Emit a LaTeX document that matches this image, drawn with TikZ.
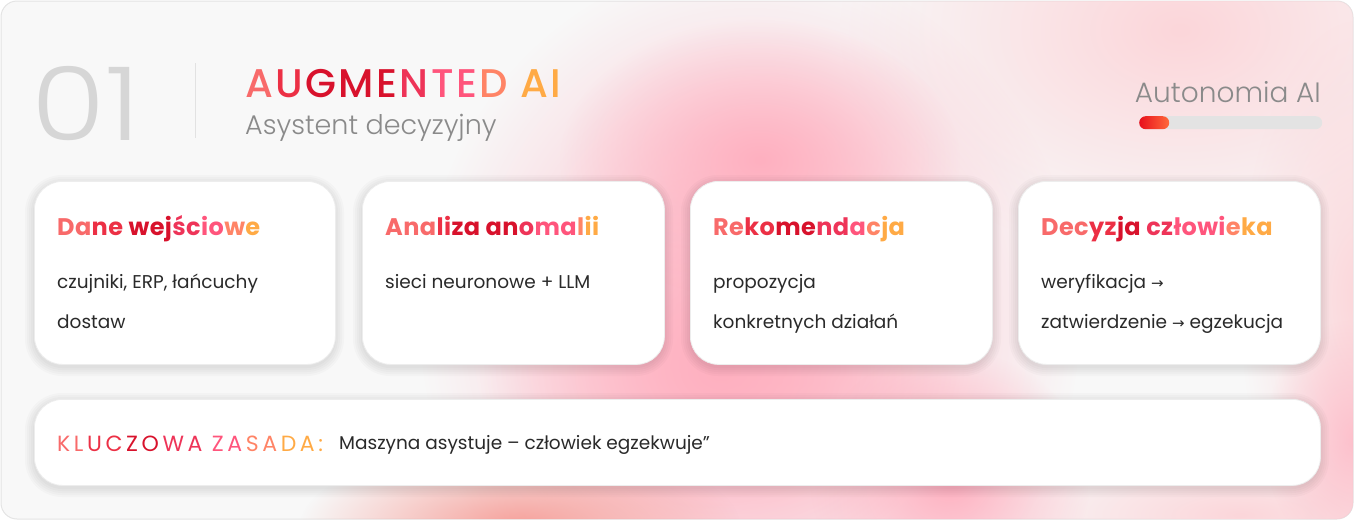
\documentclass[tikz,border=0pt]{standalone}
\usepackage{fontspec}
\usepackage{graphicx}
\setmainfont{Poppins}
\newfontfamily\lightfont{Poppins Light}
\newfontfamily\medfont{Poppins Medium}
\newfontfamily\boldfont{Poppins Bold}
\newfontfamily\arrowfont{DejaVu Sans}
\usetikzlibrary{fadings}
\definecolor{gA}{HTML}{F86A6A}
\definecolor{gB}{HTML}{EC3045}
\definecolor{gC}{HTML}{D8122C}
\definecolor{gD}{HTML}{EE3458}
\definecolor{gE}{HTML}{FF557C}
\definecolor{gF}{HTML}{FF8466}
\definecolor{gG}{HTML}{FFAA45}
\definecolor{bg}{HTML}{F8F8F8}
\definecolor{frame}{HTML}{E4E4E4}
\definecolor{cardline}{HTML}{EDEDED}
\definecolor{numgray}{HTML}{D6D6D6}
\definecolor{subgray}{HTML}{8A8A8A}
\definecolor{bodytext}{HTML}{2A2A2A}
\definecolor{bargray}{HTML}{E3E3E3}
\definecolor{barred}{HTML}{E8101C}
\definecolor{barorange}{HTML}{FF6A3A}
\definecolor{blobpink}{HTML}{FFB0C0}
\definecolor{blobsalmon}{HTML}{F6A09A}
\definecolor{bloblight}{HTML}{FCD6DA}
\tikzfading[name=softblob, inner color=transparent!0, outer color=transparent!100]
\ExplSyntaxOn
\dim_new:N \l_myls_dim
\NewDocumentCommand\gl{mm}{\textcolor{#1}{\tl_map_inline:nn{#2}{##1\kern\l_myls_dim}}}
\NewDocumentCommand\setls{m}{\dim_set:Nn \l_myls_dim{#1}}
\ExplSyntaxOff
\newcommand\arr{{\arrowfont\fontsize{15}{15}\selectfont →}}
\newcommand\cardshadow[4]{%
  \foreach \e in {1,3,5,7,9}{%
    \fill[black, fill opacity=0.018, rounded corners=28pt+\e pt]
      (#1-\e,#2-\e+3) rectangle (#3+\e,#4+\e+3);}}
\begin{document}
\begin{tikzpicture}[x=1pt,y=-1pt,
  card/.style={draw=cardline, line width=0.8pt, fill=white, rounded corners=28pt},
  cardtitle/.style={anchor=base west, inner sep=0pt, font=\boldfont\fontsize{24}{24}\selectfont},
  body/.style={anchor=base west, inner sep=0pt, text=bodytext, font=\fontsize{18.5}{18.5}\selectfont},
  blob/.style={path fading=softblob}]
\useasboundingbox (0,0) rectangle (1354,520);
% outer frame
\path[fill=bg, draw=frame, line width=1pt, rounded corners=16pt] (1,1) rectangle (1353,519);
% background blobs
\begin{scope}
\clip[rounded corners=16pt] (1,1) rectangle (1353,519);
\fill[bloblight, blob] (1180,30) ellipse (340 and 230);
\fill[bloblight, blob] (1360,300) ellipse (120 and 280);
\fill[bloblight, blob] (1240,515) ellipse (260 and 80);
\fill[blobpink, blob, fill opacity=0.9] (750,320) ellipse (330 and 360);
\fill[blobpink, blob] (720,370) ellipse (240 and 200);
\fill[blobpink, blob] (760,160) ellipse (200 and 140);
\fill[blobsalmon, blob] (520,525) ellipse (220 and 80);
\fill[blobpink, blob] (950,480) ellipse (140 and 130);
\fill[blobpink, blob, fill opacity=0.7] (1354,440) ellipse (90 and 120);
\end{scope}
% header
\node[anchor=base west, inner sep=0pt, text=numgray, font=\lightfont\fontsize{102}{102}\selectfont] (num) at (31,140) {\scalebox{1.18}[1]{01}};
\draw[numgray!70, line width=0.8pt] (195,63) -- (195,138);
\node[anchor=base west, inner sep=0pt, font=\medfont\fontsize{40}{40}\selectfont] (title) at (245,97)
  {\setls{2.4pt}\gl{gA}{A}\gl{gB}{U}\gl{gC}{GME}\gl{gD}{N}\gl{gE}{TE}\gl{gF}{D} \gl{gG}{AI}};
\node[anchor=base west, inner sep=0pt, text=subgray, font=\lightfont\fontsize{27}{27}\selectfont] (subtitle) at (245,134) {Asystent decyzyjny};
\node[anchor=base east, inner sep=0pt, text=subgray, font=\lightfont\fontsize{28}{28}\selectfont] (auto) at (1321,102) {Autonomia AI};
\node[fill=bargray, rounded corners=6.5pt, minimum width=183pt, minimum height=13pt, inner sep=0pt, anchor=north west] (bar) at (1139,116) {};
\node[left color=barred, right color=barorange, rounded corners=6.5pt, minimum width=30pt, minimum height=13pt, inner sep=0pt, anchor=north west] (barfill) at (1139,116) {};
% card shadows
\cardshadow{34}{181}{335}{364}
\cardshadow{362}{181}{664}{364}
\cardshadow{690}{181}{992}{364}
\cardshadow{1018}{181}{1320}{364}
\cardshadow{34}{399}{1320}{485}
% cards
\node[card, minimum width=301pt, minimum height=183pt, anchor=north west] (c1) at (34,181) {};
\node[card, minimum width=302pt, minimum height=183pt, anchor=north west] (c2) at (362,181) {};
\node[card, minimum width=302pt, minimum height=183pt, anchor=north west] (c3) at (690,181) {};
\node[card, minimum width=302pt, minimum height=183pt, anchor=north west] (c4) at (1018,181) {};
\node[card, minimum width=1286pt, minimum height=86pt, anchor=north west] (c5) at (34,399) {};
% card 1
\node[cardtitle] (t1) at (57,235) {\setls{0.4pt}\gl{gA}{Da}\gl{gB}{ne} \gl{gC}{wej}\gl{gD}{śc}\gl{gE}{io}\gl{gF}{w}\gl{gG}{e}};
\node[body] (b1a) at (57,288) {czujniki, ERP, łańcuchy};
\node[body] (b1b) at (57,328) {dostaw};
% card 2
\node[cardtitle] (t2) at (385,235) {\setls{0.4pt}\gl{gA}{Ana}\gl{gB}{li}\gl{gC}{za} \gl{gC}{an}\gl{gD}{o}\gl{gE}{ma}\gl{gF}{l}\gl{gG}{ii}};
\node[body] (b2a) at (385,288) {sieci neuronowe + LLM};
% card 3
\node[cardtitle] (t3) at (713,235) {\setls{0.4pt}\gl{gA}{Re}\gl{gB}{ko}\gl{gC}{me}\gl{gD}{nd}\gl{gE}{a}\gl{gF}{c}\gl{gG}{ja}};
\node[body] (b3a) at (713,288) {propozycja};
\node[body] (b3b) at (713,328) {konkretnych działań};
% card 4
\node[cardtitle] (t4) at (1041,235) {\setls{0.4pt}\gl{gA}{Dec}\gl{gB}{yz}\gl{gC}{ja} \gl{gD}{cz}\gl{gE}{łowi}\gl{gF}{e}\gl{gG}{ka}};
\node[body] (b4a) at (1041,288) {weryfikacja \arr};
\node[body] (b4b) at (1041,328) {zatwierdzenie \arr{} egzekucja};
% bottom card
\node[anchor=base west, inner sep=0pt, font=\fontsize{22}{22}\selectfont] (key) at (57,451)
  {\setls{3.6pt}\gl{gA}{KL}\gl{gB}{UC}\gl{gC}{ZO}\gl{gD}{WA} \gl{gE}{ZA}\gl{gF}{SA}\gl{gG}{DA:}};
\node[body] (msg) at (339,449) {Maszyna asystuje – człowiek egzekwuje”};
\end{tikzpicture}
\end{document}
